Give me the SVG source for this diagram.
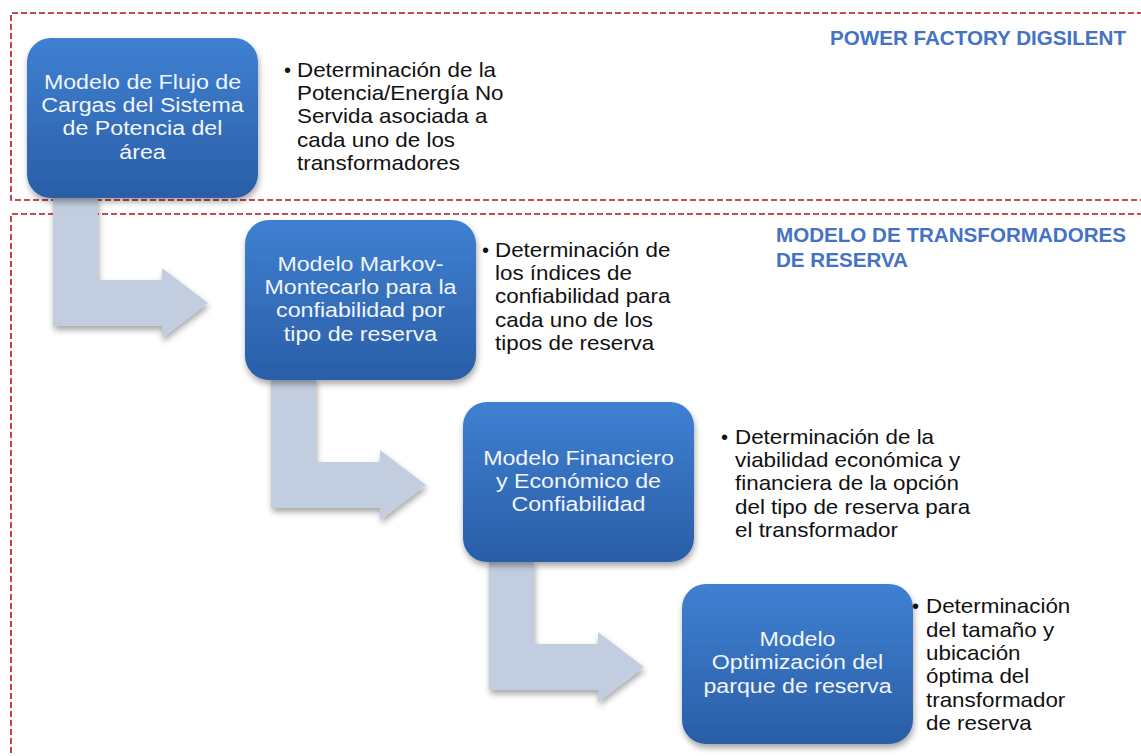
<svg xmlns="http://www.w3.org/2000/svg" width="1141" height="756" viewBox="0 0 1141 756">
<defs>
<linearGradient id="nodeGrad" x1="0" y1="0" x2="0" y2="1">
<stop offset="0" stop-color="#3f80d2"/>
<stop offset="1" stop-color="#2a5ea7"/>
</linearGradient>
<filter id="shadow" x="-10%" y="-10%" width="125%" height="130%">
<feGaussianBlur in="SourceAlpha" stdDeviation="3"/>
<feOffset dx="1" dy="4" result="b"/>
<feComponentTransfer><feFuncA type="linear" slope="0.35"/></feComponentTransfer>
<feMerge><feMergeNode/><feMergeNode in="SourceGraphic"/></feMerge>
</filter>
</defs>
<style>
.frame{fill:none;stroke:#b3121b;stroke-width:1.6;stroke-dasharray:6 3}
.node{fill:url(#nodeGrad);filter:url(#shadow)}
.ntxt{font-family:"Liberation Sans",Arial,sans-serif;font-size:20px;fill:#f2f5fb;text-anchor:middle}
.btxt{font-family:"Liberation Sans",Arial,sans-serif;font-size:20px;fill:#111111}
.hdr{font-family:"Liberation Sans",Arial,sans-serif;font-size:20.6px;font-weight:bold;fill:#4472c4}
.arrow{fill:#c3cde0;filter:url(#shadow)}
</style>
<rect width="1141" height="756" fill="#ffffff"/>
<g id="frames">
<path class="frame" d="M1143,13 H11 V200 H1143"/>
<path class="frame" d="M1143,214 H11 V760"/>
<text class="hdr" x="1126" y="45" text-anchor="end">POWER FACTORY DIGSILENT</text>
<text class="hdr" x="776" y="242" textLength="350" lengthAdjust="spacingAndGlyphs">MODELO DE TRANSFORMADORES</text>
<text class="hdr" x="776" y="267">DE RESERVA</text>
</g>
<g id="connectors">
<polygon class="arrow" points="53,196 98,196 98,280 162,280 162,268 208,303 162,338 162,326 53,326"/>
<polygon class="arrow" points="271,378 316,378 316,462 380,462 380,450 426,485 380,520 380,508 271,508"/>
<polygon class="arrow" points="489,560 534,560 534,644 598,644 598,632 644,667 598,702 598,690 489,690"/>
</g>
<g id="node1">
<rect class="node" x="27" y="38" width="231" height="160" rx="24"/>
<g transform="translate(142.5,0) scale(1.16,1) translate(-142.5,0)">
<text class="ntxt" x="142.5" y="89">Modelo de Flujo de</text>
<text class="ntxt" x="142.5" y="112">Cargas del Sistema</text>
<text class="ntxt" x="142.5" y="135">de Potencia del</text>
<text class="ntxt" x="142.5" y="159">área</text>
</g>
</g>
<g id="desc1">
<text class="btxt" x="284" y="77">•</text>
<g transform="translate(297,0) scale(1.12,1) translate(-297,0)">
<text class="btxt" x="297" y="77">Determinación de la</text>
<text class="btxt" x="297" y="100">Potencia/Energía No</text>
<text class="btxt" x="297" y="123">Servida asociada a</text>
<text class="btxt" x="297" y="147">cada uno de los</text>
<text class="btxt" x="297" y="170">transformadores</text>
</g>
</g>
<g id="node2">
<rect class="node" x="245" y="220" width="231" height="160" rx="24"/>
<g transform="translate(360.5,0) scale(1.16,1) translate(-360.5,0)">
<text class="ntxt" x="360.5" y="271">Modelo Markov-</text>
<text class="ntxt" x="360.5" y="294">Montecarlo para la</text>
<text class="ntxt" x="360.5" y="317">confiabilidad por</text>
<text class="ntxt" x="360.5" y="341">tipo de reserva</text>
</g>
</g>
<g id="desc2">
<text class="btxt" x="482" y="257">•</text>
<g transform="translate(495,0) scale(1.12,1) translate(-495,0)">
<text class="btxt" x="495" y="257">Determinación de</text>
<text class="btxt" x="495" y="280">los índices de</text>
<text class="btxt" x="495" y="303">confiabilidad para</text>
<text class="btxt" x="495" y="327">cada uno de los</text>
<text class="btxt" x="495" y="350">tipos de reserva</text>
</g>
</g>
<g id="node3">
<rect class="node" x="463" y="402" width="231" height="160" rx="24"/>
<g transform="translate(578.5,0) scale(1.16,1) translate(-578.5,0)">
<text class="ntxt" x="578.5" y="465">Modelo Financiero</text>
<text class="ntxt" x="578.5" y="488">y Económico de</text>
<text class="ntxt" x="578.5" y="511">Confiabilidad</text>
</g>
</g>
<g id="desc3">
<text class="btxt" x="721" y="444">•</text>
<g transform="translate(735,0) scale(1.12,1) translate(-735,0)">
<text class="btxt" x="735" y="444">Determinación de la</text>
<text class="btxt" x="735" y="467">viabilidad económica y</text>
<text class="btxt" x="735" y="490">financiera de la opción</text>
<text class="btxt" x="735" y="514">del tipo de reserva para</text>
<text class="btxt" x="735" y="537">el transformador</text>
</g>
</g>
<g id="node4">
<rect class="node" x="682" y="584" width="231" height="160" rx="24"/>
<g transform="translate(797.5,0) scale(1.16,1) translate(-797.5,0)">
<text class="ntxt" x="797.5" y="646">Modelo</text>
<text class="ntxt" x="797.5" y="669">Optimización del</text>
<text class="ntxt" x="797.5" y="693">parque de reserva</text>
</g>
</g>
<g id="desc4">
<text class="btxt" x="912" y="613">•</text>
<g transform="translate(926,0) scale(1.12,1) translate(-926,0)">
<text class="btxt" x="926" y="613">Determinación</text>
<text class="btxt" x="926" y="637">del tamaño y</text>
<text class="btxt" x="926" y="660">ubicación</text>
<text class="btxt" x="926" y="683">óptima del</text>
<text class="btxt" x="926" y="707">transformador</text>
<text class="btxt" x="926" y="730">de reserva</text>
</g>
</g>
</svg>
